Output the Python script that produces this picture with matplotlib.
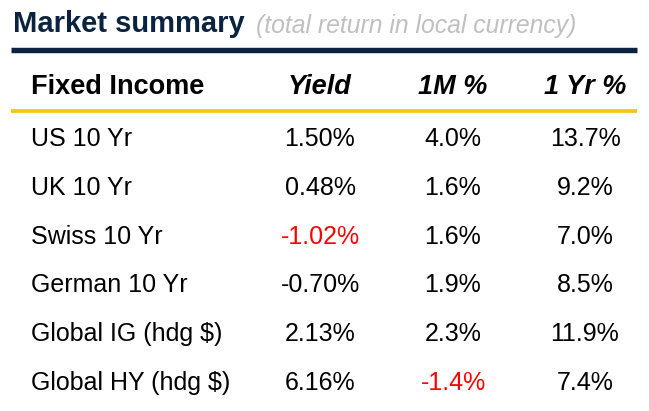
import matplotlib.pyplot as plt

# table content
row_labels = ['US 10 Yr', 'UK 10 Yr', 'Swiss 10 Yr', 'German 10 Yr',
              'Global IG (hdg $)', 'Global HY (hdg $)']
yields = [1.50, 0.48, -1.02, -0.70, 2.13, 6.16]
one_month = [4.0, 1.6, 1.6, 1.9, 2.3, -1.4]
one_year = [13.7, 9.2, 7.0, 8.5, 11.9, 7.4]
headers = ['Fixed Income', 'Yield', '1M %', '1 Yr %']
# cells shown in red: (row, column)
red_cells = [(2, 1), (5, 2)]


def make_table():
    fig = plt.figure(figsize=(6.49, 4.11), dpi=100)
    ax = fig.add_axes([0, 0, 1, 1])
    ax.set_xlim(0, 649)
    ax.set_ylim(411, 0)
    ax.axis('off')

    navy = '#0c2340'
    gold = '#f2c811'
    font = ['Liberation Sans', 'DejaVu Sans']

    # title
    ax.text(13, 32.5, 'Market summary', fontsize=21, fontweight='bold',
            color=navy, ha='left', va='baseline', family=font)
    ax.text(256, 32.5, '(total return in local currency)', fontsize=17.8,
            fontstyle='italic', color='#c0c0c0', ha='left', va='baseline', family=font)

    ax.plot([11, 637], [50, 50], color=navy, linewidth=3.9, solid_capstyle='butt')
    ax.plot([11, 637], [111, 111], color=gold, linewidth=2.7, solid_capstyle='butt')

    col_x = [31, 320, 453, 585]
    ax.text(col_x[0], 94, headers[0], fontsize=19.5, fontweight='bold',
            ha='left', va='baseline', family=font)
    for x, h in zip(col_x[1:], headers[1:]):
        ax.text(x, 94, h, fontsize=19.5, fontweight='bold', fontstyle='italic',
                ha='center', va='baseline', family=font)

    row_y0, row_step = 146, 48.8
    for i, label in enumerate(row_labels):
        y = row_y0 + i * row_step
        ax.text(col_x[0], y, label, fontsize=18, ha='left', va='baseline', family=font)
        cells = [f'{yields[i]:.2f}%', f'{one_month[i]:.1f}%', f'{one_year[i]:.1f}%']
        for j, txt in enumerate(cells, start=1):
            c = '#ff0000' if (i, j) in red_cells else 'black'
            ax.text(col_x[j], y, txt, fontsize=18, ha='center', va='baseline',
                    color=c, family=font)

    fig.savefig('out.png', dpi=100, facecolor='white')


if __name__ == '__main__':
    make_table()
